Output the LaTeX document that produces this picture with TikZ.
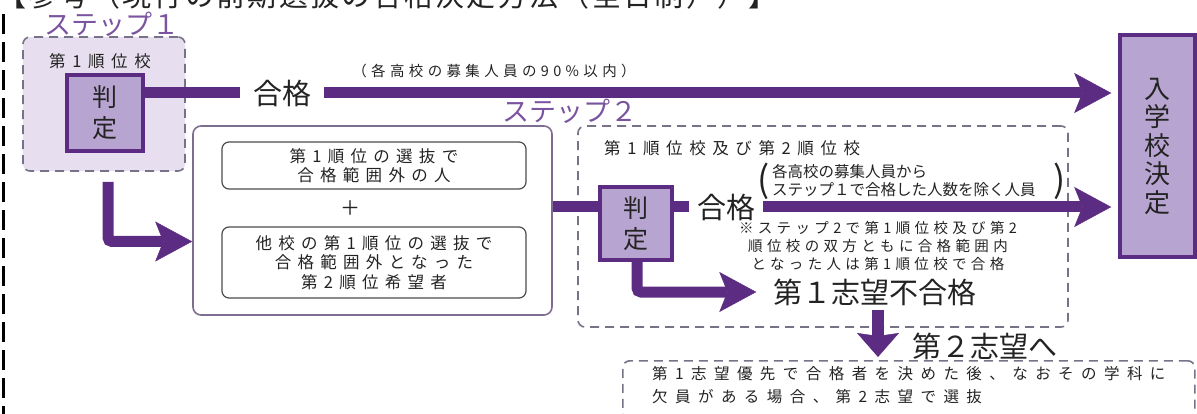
\documentclass[tikz,border=0pt]{standalone}
\usepackage{fontspec}
\setmainfont{Noto Sans CJK JP}
\newfontfamily\jp{Noto Sans CJK JP}
\usetikzlibrary{arrows.meta}
\definecolor{pl}{RGB}{92,44,130}
\definecolor{pfill}{RGB}{184,164,208}
\definecolor{sfill}{RGB}{231,223,239}
\definecolor{stepc}{RGB}{122,84,158}
\definecolor{dashc}{RGB}{120,114,134}
\definecolor{s2c}{RGB}{125,110,145}
\definecolor{txt}{RGB}{35,35,35}
\newcommand\fsz[2]{\fontsize{#1}{#2}\selectfont}
\newcommand\lsp[1]{\addfontfeature{LetterSpace=#1}}
\tikzset{
  every node/.style={text=txt, inner sep=0pt},
  pline/.style={draw=pl, line width=11pt},
  parrow/.style={pline, -{Stealth[length=37pt,width=40pt,inset=8pt,line width=0.5pt]}},
  darrow/.style={draw=pl, line width=12pt, -{Stealth[length=24pt,width=42pt,inset=3pt,line width=0.5pt]}},
  judge/.style={draw=pl, line width=3.5pt, fill=pfill, align=center},
  dbox/.style={draw=dashc, line width=1.6pt, dash pattern=on 9pt off 6pt, rounded corners=7pt},
  ibox/.style={draw=black!70, line width=1.2pt, rounded corners=7pt, align=center,
    font=\jp\fsz{16.5}{19.5}\lsp{38}},
  steplbl/.style={text=stepc, font=\jp\fsz{27}{28}},
  big/.style={font=\jp\fsz{29}{30}},
}
\begin{document}
\begin{tikzpicture}[x=1pt,y=-1pt]
\useasboundingbox (0,0) rectangle (1197,414);
% header (partly cut off at the top)
\node[anchor=base west, font=\jp\fsz{29}{30}\lsp{8}] (hd) at (-3,7) {【参考（現行の前期選抜の合格決定方法（全日制））】};
\draw[black, line width=3pt, dash pattern=on 20pt off 8pt] (3,14) -- (3,414);
% step 1
\node[steplbl] (s1l) at (112,24) {ステップ１};
\node[dbox, fill=sfill, minimum width=162pt, minimum height=134pt] (s1) at (104,104) {};
\node[font=\jp\fsz{16.5}{20}\lsp{40}] (s1t) at (100,61) {第1順位校};
\node[judge, minimum width=76pt, minimum height=76pt, font=\jp\fsz{25}{31}] (j1) at (105,113) {判\\定};
\node[big, inner xsep=13pt] (ok1) at (282,93) {合格};
\node[font=\jp\fsz{14.5}{16}\lsp{30}] (n1) at (494,71) {（各高校の募集人員の90\%以内）};
% goal
\node[judge, minimum width=75pt, minimum height=222pt, font=\jp\fsz{26}{28.5}] (goal) at (1157.5,146) {入\\学\\校\\決\\定};
% step 2
\node[steplbl] (s2l) at (570,111) {ステップ２};
\node[draw=s2c, line width=1.6pt, rounded corners=8pt, minimum width=359pt, minimum height=189pt] (s2) at (372.5,220.5) {};
\node[ibox, minimum width=304pt, minimum height=47pt] (in1) at (374,165.5) {第1順位の選抜で\\合格範囲外の人};
\node[font=\jp\fsz{20}{20}] (plus) at (350,208) {＋};
\node[ibox, minimum width=304pt, minimum height=71pt] (in2) at (374,262.5) {他校の第1順位の選抜で\\合格範囲外となった\\第2順位希望者};
\node[dbox, minimum width=490pt, minimum height=201pt] (s2r) at (823,226.5) {};
\node[anchor=west, font=\jp\fsz{16.5}{20}\lsp{40}] (s2t) at (604,148) {第1順位校及び第2順位校};
\node[judge, minimum width=72pt, minimum height=73pt, font=\jp\fsz{25}{31}] (j2) at (636,223.5) {判\\定};
\node[big, inner xsep=8pt] (ok2) at (726,207) {合格};
\node[font=\jp\fsz{36}{36}] (lp) at (764,181) {(};
\node[anchor=west, align=left, font=\jp\fsz{15.5}{18}] (pt) at (772,181) {各高校の募集人員から\\ステップ１で合格した人数を除く人員};
\node[font=\jp\fsz{36}{36}] (rp) at (1060,181) {)};
\node[align=center, font=\jp\fsz{14.5}{18}\lsp{30}] (nt) at (878,246) {※ステップ2で第1順位校及び第2\\順位校の双方ともに合格範囲内\\となった人は第1順位校で合格};
\node[big, inner xsep=17pt, inner ysep=4pt] (fail) at (875,292) {第１志望不合格};
\node[big] (nx) at (985,346) {第２志望へ};
\node[dbox, anchor=north west, minimum width=572pt, minimum height=60pt] (bot) at (622,360) {};
\node[anchor=north west, align=left, font=\jp\fsz{15.5}{23}\lsp{48}] (bt) at (652,366) {第1志望優先で合格者を決めた後、なおその学科に\\欠員がある場合、第2志望で選抜};
% connectors
\draw[pline] (j1.east |- ok1.west) -- (ok1.west);
\draw[parrow, shorten >=7pt] (ok1.east) -- (ok1.east -| goal.west);
\draw[parrow, rounded corners=4pt] ([xshift=4pt,yshift=-10pt]s1.south) |- ([yshift=-21pt]s2.west);
\draw[pline] (s2.east |- ok2.west) -- (j2.west |- ok2.west);
\draw[pline] (j2.east |- ok2.west) -- (ok2.west);
\draw[parrow, shorten >=7pt] (ok2.east) -- (ok2.east -| goal.west);
\draw[parrow, rounded corners=4pt] ([xshift=1pt]j2.south) |- (fail.west);
\draw[darrow, shorten >=3pt] ([xshift=3pt]fail.south) -- ([xshift=3pt]fail.south |- bot.north);
\end{tikzpicture}
\end{document}
